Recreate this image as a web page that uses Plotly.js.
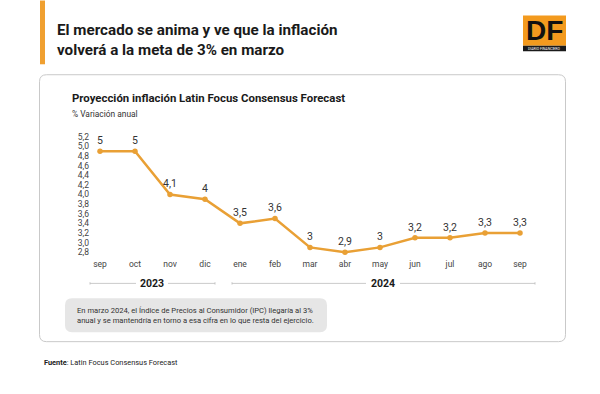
<!DOCTYPE html>
<html>
<head>
<meta charset="utf-8">
<script src="https://cdn.plot.ly/plotly-3.0.1.min.js"></script>
<style>html,body{margin:0;padding:0;background:#fff;}#chart{width:600px;height:394px;}</style>
</head>
<body>
<div id="chart"></div>
<script>
// ---- data ----
const months = ["sep","oct","nov","dic","ene","feb","mar","abr","may","jun","jul","ago","sep"];
const plotted = [4.9, 4.9, 4.0, 3.9, 3.4, 3.5, 2.9, 2.8, 2.9, 3.1, 3.1, 3.2, 3.2];
const valueLabels = ["5","5","4,1","4","3,5","3,6","3","2,9","3","3,2","3,2","3,3","3,3"];
const yTicks = [2.8,3.0,3.2,3.4,3.6,3.8,4.0,4.2,4.4,4.6,4.8,5.0,5.2];
const years = ["2023","2024"];

const W = 600, H = 394;
const M = {l: 90, r: 70, t: 132, b: 136.5};
const PW = W - M.l - M.r, PH = H - M.t - M.b;
const fx = px => (px - M.l) / PW;
const fy = py => (H - M.b - py) / PH;

const FONT = "Liberation Sans Narrow, Roboto, sans-serif";
const ORANGE = "#E9A035";

function rrect(x0, y0, x1, y1, r) {
  const X = fx, Y = fy;
  return `M ${X(x0+r)} ${Y(y0)} L ${X(x1-r)} ${Y(y0)} Q ${X(x1)} ${Y(y0)} ${X(x1)} ${Y(y0+r)} ` +
         `L ${X(x1)} ${Y(y1-r)} Q ${X(x1)} ${Y(y1)} ${X(x1-r)} ${Y(y1)} ` +
         `L ${X(x0+r)} ${Y(y1)} Q ${X(x0)} ${Y(y1)} ${X(x0)} ${Y(y1-r)} ` +
         `L ${X(x0)} ${Y(y0+r)} Q ${X(x0)} ${Y(y0)} ${X(x0+r)} ${Y(y0)} Z`;
}
function pline(x0, y0, x1, y1, color, w) {
  return {type: "line", xref: "paper", yref: "paper", x0: fx(x0), y0: fy(y0), x1: fx(x1), y1: fy(y1),
          line: {color: color, width: w}, layer: "below"};
}
function prect(x0, y0, x1, y1, fill) {
  return {type: "rect", xref: "paper", yref: "paper", x0: fx(x0), y0: fy(y0), x1: fx(x1), y1: fy(y1),
          fillcolor: fill, line: {width: 0}, layer: "below"};
}
function ann(text, px, py, size, opts) {
  return Object.assign({text: text, xref: "paper", yref: "paper", x: fx(px), y: fy(py),
    showarrow: false, xanchor: "left", yanchor: "middle", align: "left",
    font: {family: FONT, size: size, color: "#222"}}, opts || {});
}

const trace = {
  x: months.map((_, i) => i),
  y: plotted,
  text: valueLabels,
  mode: "lines+markers+text",
  textposition: "top center",
  textfont: {family: FONT, size: 10.5, color: "#333"},
  line: {color: ORANGE, width: 2.5},
  marker: {color: ORANGE, size: 5.5},
  cliponaxis: false,
  hoverinfo: "skip"
};

const shapes = [
  prect(40, 0, 45, 64, "#F0A030"),
  {type: "path", xref: "paper", yref: "paper", path: rrect(39.5, 74.5, 565.5, 342.5, 7),
   fillcolor: "rgba(0,0,0,0)", line: {color: "#c9c9c9", width: 1}, layer: "below"},
  {type: "path", xref: "paper", yref: "paper", path: rrect(65, 299, 327, 333, 7),
   fillcolor: "#e6e6e6", line: {width: 0}, layer: "below"},
  // year brackets
  pline(90, 284, 136, 284, "#bdbdbd", 0.8),
  pline(168, 284, 215, 284, "#bdbdbd", 0.8),
  pline(232, 284, 366, 284, "#bdbdbd", 0.8),
  pline(400, 284, 535, 284, "#bdbdbd", 0.8),
  pline(90, 282.8, 90, 285.2, "#bdbdbd", 0.8),
  pline(215, 282.8, 215, 285.2, "#bdbdbd", 0.8),
  pline(232, 282.8, 232, 285.2, "#bdbdbd", 0.8),
  pline(535, 282.8, 535, 285.2, "#bdbdbd", 0.8),
  // logo
  prect(523, 15, 566, 45.5, "#F39A1E"),
  prect(523, 45.5, 566, 51, "#1a1a1a")
];

const annotations = [
  ann("<b>El mercado se anima y ve que la inflación<br>volverá a la meta de 3% en marzo</b>", 55, 40, 15.2,
      {font: {family: FONT, size: 15.2, color: "#1a1a1a"}}),
  ann("<b>DF</b>", 544.5, 30, 28, {xanchor: "center", font: {family: "Liberation Sans, Arial, sans-serif", size: 28, color: "#111"}}),
  ann("DIARIO FINANCIERO", 544.5, 48.3, 3.5, {xanchor: "center", font: {family: FONT, size: 3.5, color: "#fff"}}),
  ann("<b>Proyección inflación Latin Focus Consensus Forecast</b>", 70, 98, 11.4,
      {font: {family: FONT, size: 11.4, color: "#1a1a1a"}}),
  ann("% Variación anual", 70, 114, 8.4, {font: {family: FONT, size: 8.4, color: "#333"}}),
  ann("<b>" + years[0] + "</b>", 152, 284, 10.5, {xanchor: "center", font: {family: FONT, size: 10.5, color: "#1a1a1a"}}),
  ann("<b>" + years[1] + "</b>", 383, 284, 10.5, {xanchor: "center", font: {family: FONT, size: 10.5, color: "#1a1a1a"}}),
  ann("En marzo 2024, el Índice de Precios al Consumidor (IPC) llegaría al 3%<br>anual y se mantendría en torno a esa cifra en lo que resta del ejercicio.", 75, 316, 7.6,
      {font: {family: FONT, size: 7.6, color: "#333"}}),
  ann("<b>Fuente</b>: Latin Focus Consensus Forecast", 42, 363, 7.4, {font: {family: FONT, size: 7.4, color: "#222"}})
];

const layout = {
  width: W, height: H,
  margin: M,
  paper_bgcolor: "#fff", plot_bgcolor: "rgba(0,0,0,0)",
  separators: ",.",
  showlegend: false,
  xaxis: {
    range: [-10/35, 12 + 10/35],
    tickvals: months.map((_, i) => i), ticktext: months,
    showgrid: false, zeroline: false, showline: false, ticks: "",
    tickfont: {family: FONT, size: 8.5, color: "#444"},
    fixedrange: true
  },
  yaxis: {
    range: [2.7, 5.3],
    tickvals: yTicks, tickformat: ".1f",
    showgrid: false, zeroline: false, showline: false, ticks: "",
    tickfont: {family: FONT, size: 8.5, color: "#444"},
    fixedrange: true
  },
  shapes: shapes,
  annotations: annotations
};

Plotly.newPlot("chart", [trace], layout, {displayModeBar: false, staticPlot: true});
</script>
</body>
</html>
